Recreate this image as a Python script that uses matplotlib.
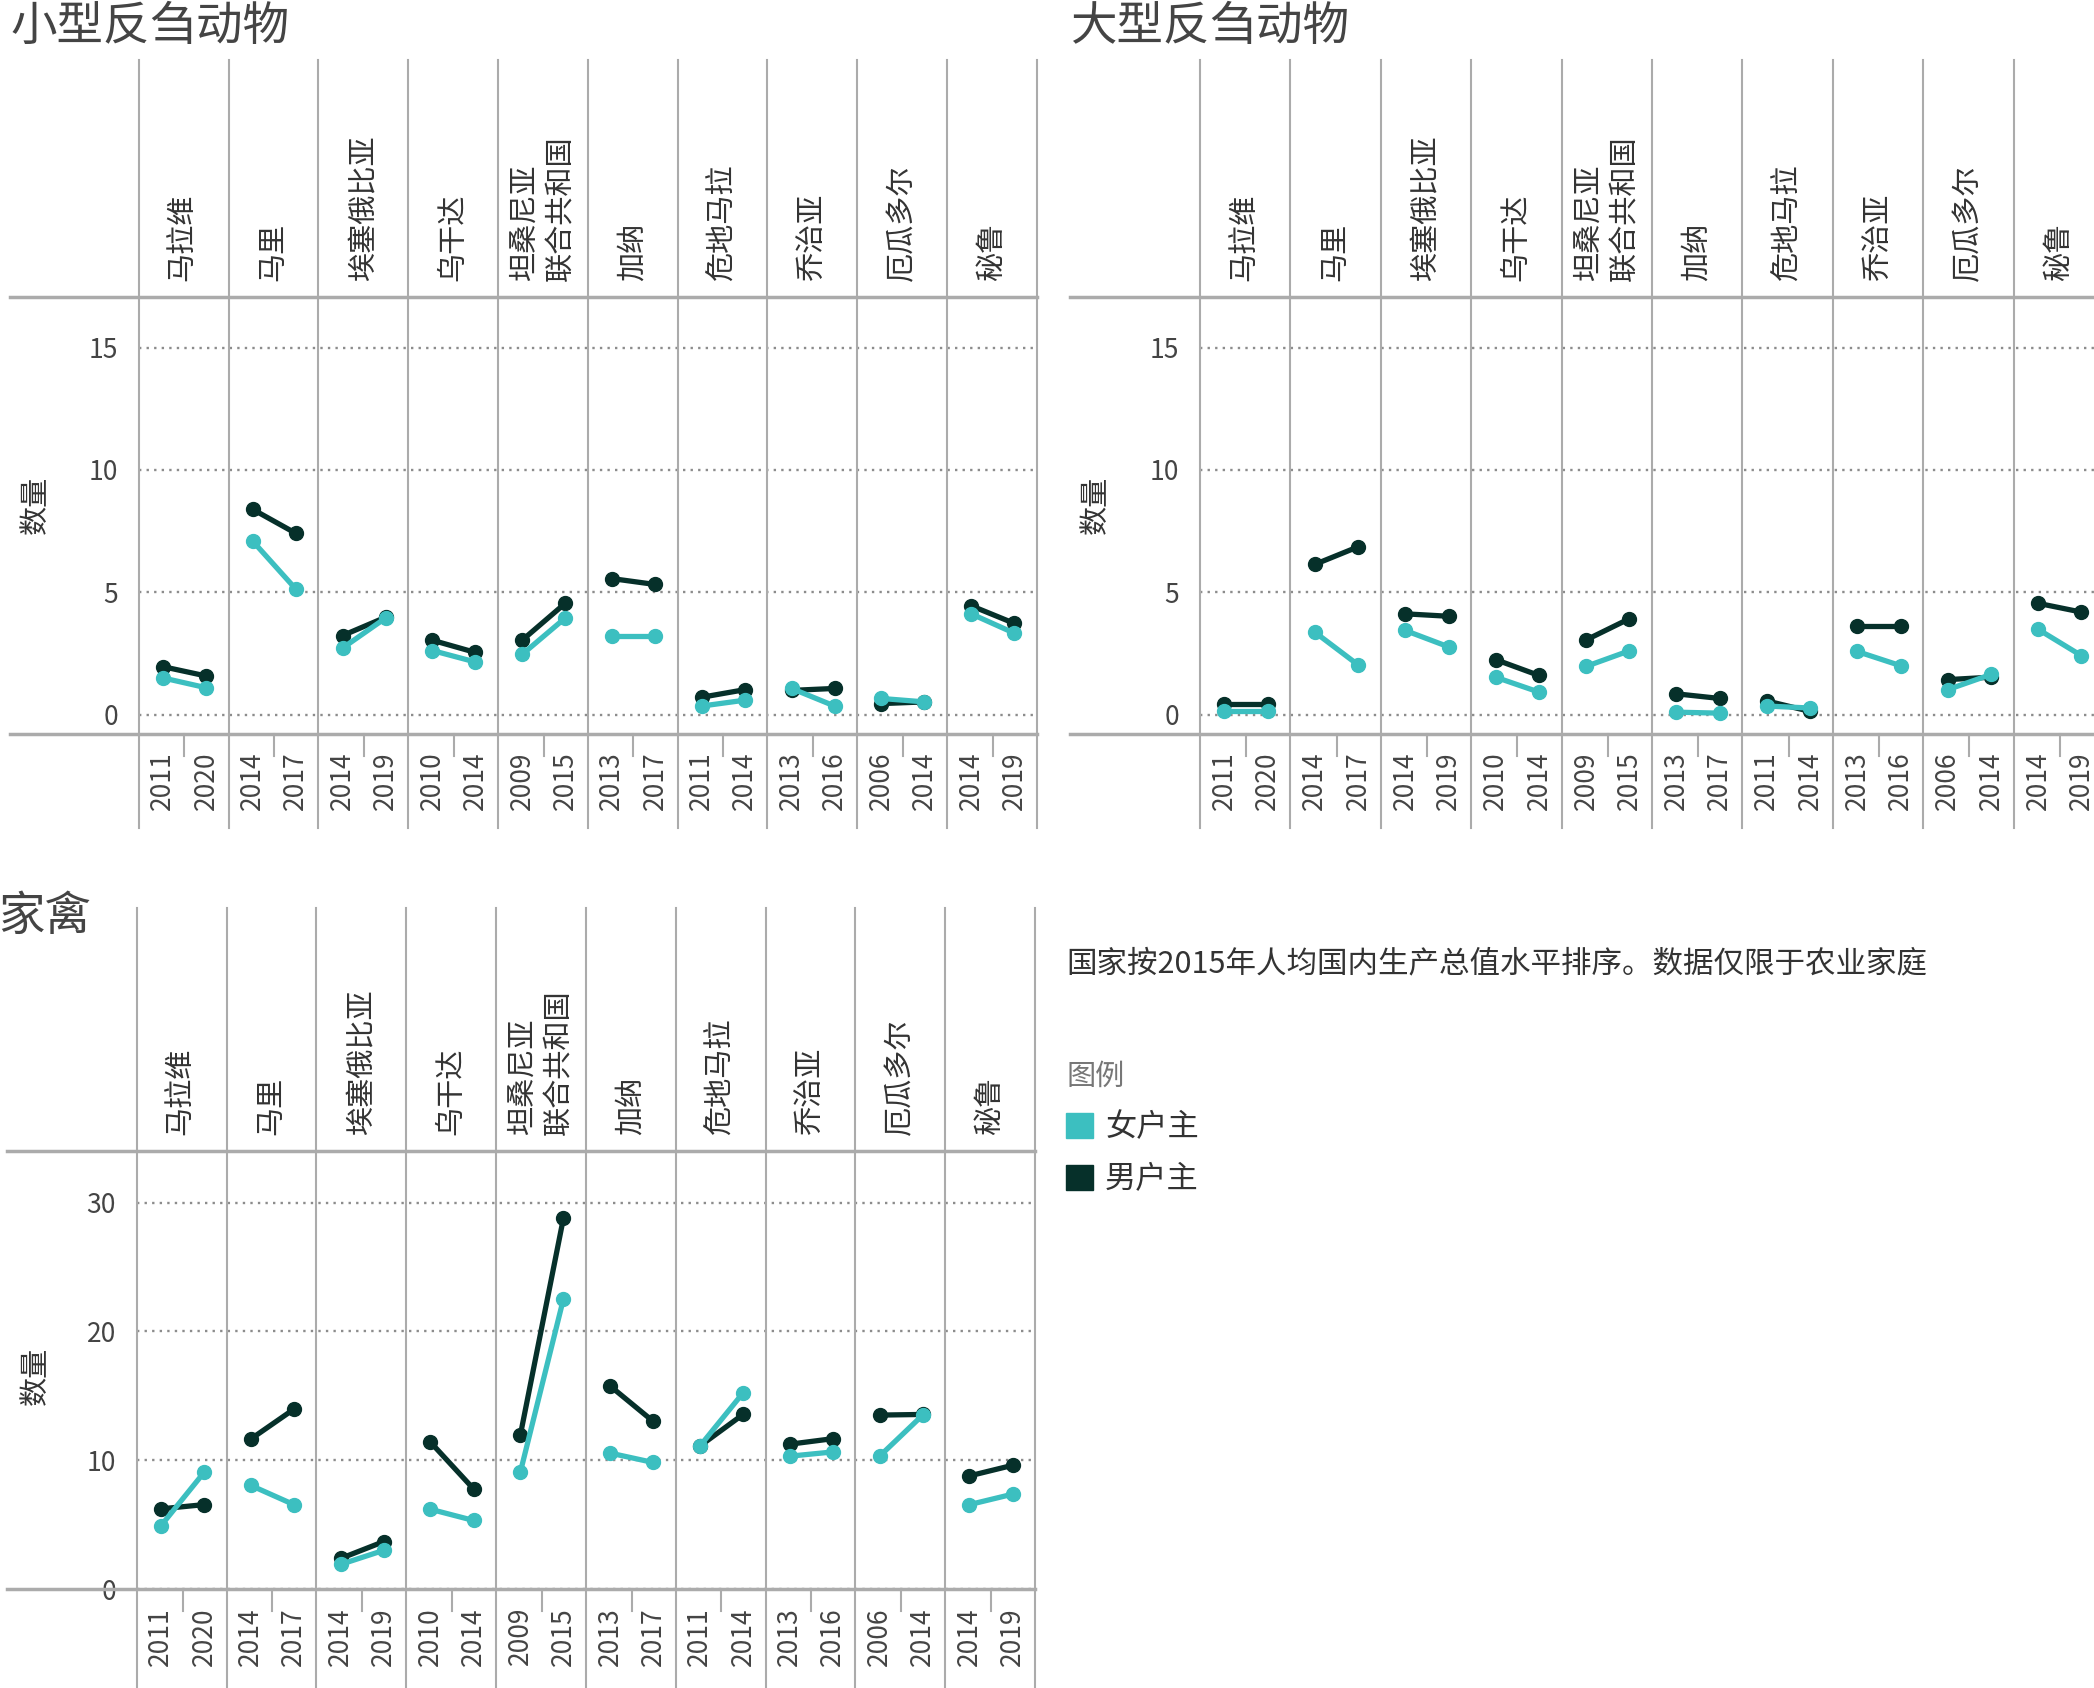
import matplotlib
matplotlib.use("Agg")
import matplotlib.pyplot as plt
from matplotlib.lines import Line2D
from matplotlib.patches import Patch
from matplotlib.transforms import blended_transform_factory

plt.rcParams['font.family'] = ['Noto Sans CJK SC', 'DejaVu Sans']

# data
countries = ["马拉维", "马里", "埃塞俄比亚", "乌干达", "坦桑尼亚\n联合共和国",
             "加纳", "危地马拉", "乔治亚", "厄瓜多尔", "秘鲁"]
years = [("2011", "2020"), ("2014", "2017"), ("2014", "2019"), ("2010", "2014"),
         ("2009", "2015"), ("2013", "2017"), ("2011", "2014"), ("2013", "2016"),
         ("2006", "2014"), ("2014", "2019")]

small_female = [(1.50, 1.10), (7.09, 5.13), (2.72, 3.95), (2.62, 2.15), (2.46, 3.95),
                (3.20, 3.20), (0.35, 0.59), (1.07, 0.35), (0.66, 0.52), (4.12, 3.33)]
small_male = [(1.96, 1.58), (8.39, 7.41), (3.23, 3.98), (3.04, 2.54), (3.04, 4.55),
              (5.56, 5.32), (0.71, 1.02), (0.99, 1.07), (0.45, 0.52), (4.45, 3.73)]

large_female = [(0.16, 0.16), (3.37, 2.03), (3.44, 2.77), (1.53, 0.92), (1.97, 2.61),
                (0.10, 0.06), (0.35, 0.27), (2.58, 2.00), (1.02, 1.64), (3.49, 2.41)]
large_male = [(0.45, 0.45), (6.14, 6.86), (4.12, 4.02), (2.25, 1.60), (3.05, 3.92),
              (0.85, 0.66), (0.56, 0.13), (3.62, 3.62), (1.43, 1.53), (4.55, 4.19)]

poultry_female = [(4.91, 9.05), (8.04, 6.55), (1.91, 3.00), (6.19, 5.32), (9.05, 22.5),
                  (10.55, 9.82), (11.10, 15.22), (10.31, 10.64), (10.31, 13.50), (6.55, 7.36)]
poultry_male = [(6.22, 6.55), (11.64, 13.96), (2.37, 3.68), (11.40, 7.77), (11.92, 28.77),
                (15.76, 13.01), (11.10, 13.55), (11.24, 11.67), (13.50, 13.55), (8.78, 9.60)]

teal = "#3cbfc0"
dark = "#06302a"
line_gray = "#ababab"

W, H = 2094, 1688
fig = plt.figure(figsize=(W / 100, H / 100), dpi=100)


def fx(px):
    return px / W


def fy(py):
    return 1 - py / H


def panel(title, female, male, x0, x1, top, hbot, axis_y, bottom, hleft,
          ylim, ticks, title_xy, ylab_x, ylab_y):
    ax = fig.add_axes([fx(x0), fy(axis_y), (x1 - x0) / W, (axis_y - hbot) / H])
    trans = blended_transform_factory(ax.transData, fig.transFigure)

    for i in range(len(countries)):
        ax.plot([i + 0.27, i + 0.75], male[i], color=dark, lw=3.8,
                marker='o', ms=10, zorder=3, solid_capstyle='round')
        ax.plot([i + 0.27, i + 0.75], female[i], color=teal, lw=3.8,
                marker='o', ms=10, zorder=4, solid_capstyle='round')

    ax.set_xlim(0, len(countries))
    ax.set_ylim(*ylim)
    ax.set_xticks([])
    ax.set_yticks(ticks)
    ax.tick_params(axis='y', length=0, pad=15, labelsize=19, labelcolor="#444")
    ax.grid(axis='y', linestyle=(0, (1, 2.2)), color="#8c8c8c", lw=1.7)
    for s in ax.spines.values():
        s.set_visible(False)
    ax.patch.set_alpha(0)
    ax.set_ylabel("数量", fontsize=21, color="#333")
    ax.yaxis.set_label_coords((ylab_x + 18 - x0) / (x1 - x0),
                              (axis_y - ylab_y) / (axis_y - hbot))

    # column separators and headers
    for i in range(len(countries) + 1):
        fig.add_artist(Line2D([i, i], [fy(top), fy(bottom)], transform=trans,
                              color=line_gray, lw=1.5, zorder=1))
    for i, name in enumerate(countries):
        ax.text(i + 0.5, fy(hbot - 16), name, transform=trans, rotation=90,
                ha='center', va='bottom', multialignment='left', linespacing=1.3,
                fontsize=21, color="#333")
        fig.add_artist(Line2D([i + 0.51, i + 0.51], [fy(axis_y), fy(axis_y + 22)],
                              transform=trans, color=line_gray, lw=1.5))
        for k, pos in enumerate((0.27, 0.75)):
            ax.text(i + pos, fy(axis_y + 18), years[i][k], transform=trans,
                    rotation=90, ha='center', va='top', fontsize=19, color="#444")

    for yy in (hbot, axis_y):
        fig.add_artist(Line2D([fx(hleft), fx(x1)], [fy(yy), fy(yy)],
                              transform=fig.transFigure, color=line_gray, lw=2.5))

    fig.text(fx(title_xy[0]), fy(title_xy[1]), title, fontsize=33.5, color="#444",
             ha='left', va='center')
    return ax


panel("小型反刍动物", small_female, small_male, 138.7, 1036.7, 60, 297, 733.7, 828, 10,
      (-0.78, 17.07), [0, 5, 10, 15], (11, 27), 33, 505)
panel("大型反刍动物", large_female, large_male, 1200, 2104, 60, 297, 733.7, 828, 1070,
      (-0.78, 17.07), [0, 5, 10, 15], (1070, 27), 1093, 505)
panel("家禽", poultry_female, poultry_male, 136.7, 1035, 908, 1151, 1589, 1700, 7,
      (0, 34.0), [0, 10, 20, 30], (-2, 917), 33, 1376)

fig.text(fx(1066), fy(964), "国家按2015年人均国内生产总值水平排序。数据仅限于农业家庭",
         fontsize=22, color="#333", ha='left', va='center')

handles = [Patch(color=teal), Patch(color=dark)]
leg = fig.legend(handles, ["女户主", "男户主"], title="图例", loc='upper left',
                 bbox_to_anchor=(fx(1038), fy(1034)), frameon=False, fontsize=22.5,
                 title_fontsize=21, alignment='left', handlelength=0.85,
                 handleheight=0.85, handletextpad=0.4, labelspacing=0.62)
leg.get_title().set_color("#777")
for t in leg.get_texts():
    t.set_color("#333")

fig.savefig("out.png", dpi=100)
